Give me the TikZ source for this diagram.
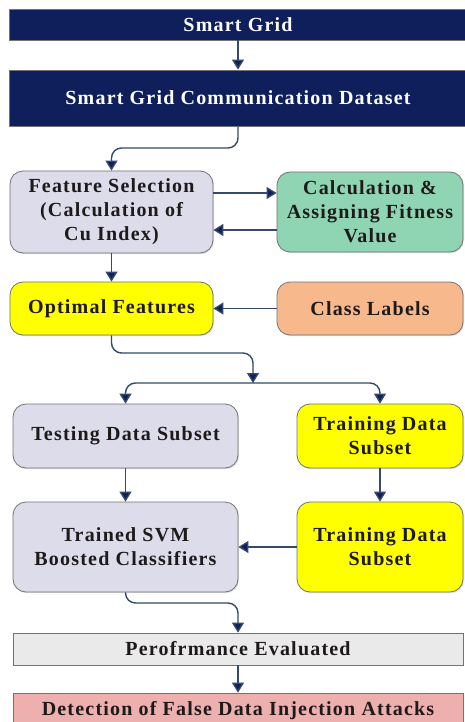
\documentclass[tikz,border=0pt]{standalone}
\usepackage{fontspec}
\setmainfont{Liberation Serif}[LetterSpace=6]
\usetikzlibrary{arrows.meta,shadows}
\definecolor{navy}{HTML}{0F1F5C}
\definecolor{lav}{HTML}{DCDCEB}
\definecolor{grn}{HTML}{8FD4B3}
\definecolor{org}{HTML}{F7B98C}
\definecolor{yel}{HTML}{FFFF00}
\definecolor{pnk}{HTML}{EDB0AE}
\definecolor{gry}{HTML}{EAEAEA}
\definecolor{ln}{HTML}{34496B}
\definecolor{txt}{HTML}{1E1A1A}
\begin{document}
\begin{tikzpicture}[x=1pt,y=-1pt,
  base/.style={draw=black!55, line width=0.8pt, inner sep=2pt, align=center,
    text=txt, font=\fontsize{20}{24}\selectfont\bfseries,
    drop shadow={opacity=0.25, shadow xshift=1pt, shadow yshift=-1.2pt}},
  sqbox/.style={base, rectangle},
  rbox/.style={base, rectangle, rounded corners=13pt},
  conn/.style={draw=ln, line width=1.4pt, -{Triangle[width=12pt,length=10pt,fill=navy]}},
  plain/.style={draw=ln, line width=1.4pt}
]
\useasboundingbox (0,0) rectangle (464,722);
\fill[white] (0,0) rectangle (464,722);

\node[sqbox, fill=navy, text=white, minimum width=458pt, minimum height=31pt] (sg) at (238,24.5) {Smart Grid};
\node[sqbox, fill=navy, text=white, minimum width=458pt, minimum height=56pt] (ds) at (238,98) {Smart Grid Communication Dataset};

\node[rbox, fill=lav, minimum width=203pt, minimum height=82pt] (fs) at (111.5,212) {Feature Selection\\(Calculation of\\Cu Index)};
\node[rbox, fill=grn, minimum width=186pt, minimum height=80pt] (calc) at (370,212) {Calculation \&\\Assigning Fitness\\Value};

\node[rbox, fill=yel, minimum width=203pt, minimum height=53pt] (opt) at (111.5,308.5) {Optimal Features};
\node[rbox, fill=org, minimum width=186pt, minimum height=53pt] (cl) at (370,308.5) {Class Labels};

\node[rbox, fill=lav, minimum width=225pt, minimum height=64pt] (test) at (125.5,436) {Testing Data Subset};
\node[rbox, fill=yel, minimum width=166pt, minimum height=64pt] (tr1) at (380,436) {Training Data\\Subset};

\node[rbox, fill=lav, minimum width=225pt, minimum height=90pt] (svm) at (125.5,547) {Trained SVM\\Boosted Classifiers};
\node[rbox, fill=yel, minimum width=166pt, minimum height=90pt] (tr2) at (380,547) {Training Data\\Subset};

\node[sqbox, fill=gry, minimum width=450pt, minimum height=32pt] (perf) at (238,649) {Perofrmance Evaluated};
\node[sqbox, fill=pnk, minimum width=450pt, minimum height=36pt] (det) at (238,711) {Detection of False Data Injection Attacks};

\coordinate (split) at (253,383);

\draw[conn] (sg) -- (ds);
\draw[conn, rounded corners=10pt] (ds.south) -- (238,148) -- (111.5,148) -- (fs.north);
\draw[conn] (fs.east |- 0,193) -- (calc.west |- 0,193);
\draw[conn] (calc.west |- 0,230) -- (fs.east |- 0,230);
\draw[conn] (fs) -- (opt);
\draw[conn] (cl) -- (opt);
\draw[conn, rounded corners=10pt] (opt.south) -- (111.5,353) -- (253,353) -- (split);
\draw[conn, rounded corners=10pt] (split) -- (125.5,383) -- (test.north);
\draw[conn, rounded corners=10pt] (split) -- (380,383) -- (tr1.north);
\draw[conn] (test) -- (svm);
\draw[conn] (tr1) -- (tr2);
\draw[conn] (tr2) -- (svm);
\draw[conn, rounded corners=10pt] (svm.south) -- (125.5,603) -- (238,603) -- (perf.north);
\draw[conn] (perf) -- (det);
\end{tikzpicture}
\end{document}
